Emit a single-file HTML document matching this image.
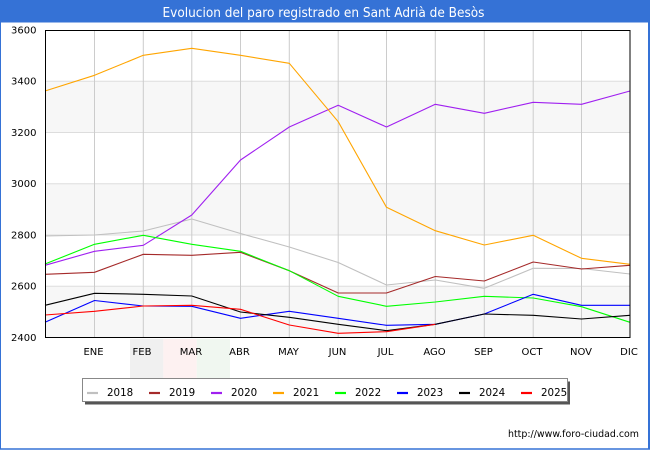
<!DOCTYPE html>
<html><head><meta charset="utf-8"><style>
html,body{margin:0;padding:0;background:#fff;}
svg{display:block;font-family:"DejaVu Sans","Liberation Sans",sans-serif;}
</style></head><body>
<svg width="650" height="450" viewBox="0 0 650 450" xmlns="http://www.w3.org/2000/svg">
<rect x="0" y="0" width="650" height="450" fill="#fff"/>
<!-- title bar -->
<rect x="0" y="0" width="650" height="22.5" fill="#3572d6"/>
<text x="323.5" y="17" font-size="13" fill="#fff" text-anchor="middle" textLength="322" lengthAdjust="spacingAndGlyphs">Evolucion del paro registrado en Sant Adrià de Besòs</text>
<!-- outer border -->
<line x1="0.5" y1="22" x2="0.5" y2="449" stroke="#3572d6" stroke-width="1"/>
<line x1="649" y1="22" x2="649" y2="449" stroke="#3572d6" stroke-width="2"/>
<line x1="0" y1="449" x2="650" y2="449" stroke="#3572d6" stroke-width="1.5"/>
<!-- flag watermark -->
<rect x="130" y="339" width="33.3" height="39" fill="#f0f0f0"/>
<rect x="163.3" y="339" width="33.4" height="39" fill="#fdf1f1"/>
<rect x="196.7" y="339" width="33.3" height="39" fill="#f0f7f0"/>
<!-- plot bands -->
<rect x="45" y="286.2" width="585" height="51.3" fill="#f7f7f7"/>
<rect x="45" y="183.7" width="585" height="51.3" fill="#f7f7f7"/>
<rect x="45" y="81.2" width="585" height="51.3" fill="#f7f7f7"/>
<!-- horizontal grid -->
<g stroke="#dddddd" stroke-width="1">
<line x1="45" y1="81.2" x2="630" y2="81.2"/>
<line x1="45" y1="132.5" x2="630" y2="132.5"/>
<line x1="45" y1="183.7" x2="630" y2="183.7"/>
<line x1="45" y1="235" x2="630" y2="235"/>
<line x1="45" y1="286.2" x2="630" y2="286.2"/>
</g>
<!-- vertical grid -->
<g stroke="#cccccc" stroke-width="1">
<line x1="94.5" y1="30" x2="94.5" y2="337.5"/>
<line x1="143.3" y1="30" x2="143.3" y2="337.5"/>
<line x1="191.8" y1="30" x2="191.8" y2="337.5"/>
<line x1="240.5" y1="30" x2="240.5" y2="337.5"/>
<line x1="289.3" y1="30" x2="289.3" y2="337.5"/>
<line x1="338.2" y1="30" x2="338.2" y2="337.5"/>
<line x1="386.5" y1="30" x2="386.5" y2="337.5"/>
<line x1="435.3" y1="30" x2="435.3" y2="337.5"/>
<line x1="484.3" y1="30" x2="484.3" y2="337.5"/>
<line x1="533.2" y1="30" x2="533.2" y2="337.5"/>
<line x1="581.5" y1="30" x2="581.5" y2="337.5"/>
</g>
<!-- series -->
<g fill="none" stroke-width="1.1" stroke-linejoin="round">
<polyline stroke="#c0c0c0" points="45,236 94.5,235 143.3,231 191.8,219 240.5,233.5 289.3,247 338.2,262.5 386.5,285 435.3,280 484.3,288.3 533.2,268.3 581.5,268.5 630,274"/>
<polyline stroke="#a52a2a" points="45,274.3 94.5,272.3 143.3,254.3 191.8,255.3 240.5,252.3 289.3,270.7 338.2,293 386.5,293 435.3,276.5 484.3,281 533.2,262 581.5,269 630,265.3"/>
<polyline stroke="#a020f0" points="45,265.3 94.5,251.3 143.3,245.3 191.8,215 240.5,160 289.3,127 338.2,105.3 386.5,127 435.3,104.3 484.3,113.3 533.2,102.3 581.5,104.3 630,91"/>
<polyline stroke="#ffa500" points="45,91 94.5,75.3 143.3,55.3 191.8,48.3 240.5,55.3 289.3,63.3 338.2,121.7 386.5,207.3 435.3,230.7 484.3,245 533.2,235.3 581.5,258.3 630,264.3"/>
<polyline stroke="#00ff00" points="45,264 94.5,244.3 143.3,235.3 191.8,244.3 240.5,251.3 289.3,270.7 338.2,296.3 386.5,306.3 435.3,302 484.3,296.3 533.2,298 581.5,306.7 630,322.3"/>
<polyline stroke="#0000ff" points="45,322.3 94.5,300.5 143.3,306 191.8,306.3 240.5,318.3 289.3,311.3 338.2,318.3 386.5,325.3 435.3,324.3 484.3,314 533.2,294.3 581.5,305.3 630,305.3"/>
<polyline stroke="#000000" points="45,305.3 94.5,293.3 143.3,294.3 191.8,296 240.5,312 289.3,317.3 338.2,324.3 386.5,330.7 435.3,324.3 484.3,314 533.2,315.3 581.5,319 630,315.3"/>
<polyline stroke="#ff0000" points="45,315 94.5,311.3 143.3,306 191.8,305.3 240.5,309.3 289.3,325 338.2,333.3 386.5,331.7 435.3,324.3"/>
</g>
<!-- plot frame -->
<rect x="45.5" y="30.5" width="584.5" height="307" fill="none" stroke="#000" stroke-width="1"/>
<!-- y labels -->
<g font-size="10" fill="#000" text-anchor="end">
<text x="36.5" y="33.5">3600</text>
<text x="36.5" y="84.7">3400</text>
<text x="36.5" y="136">3200</text>
<text x="36.5" y="187.2">3000</text>
<text x="36.5" y="238.5">2800</text>
<text x="36.5" y="289.7">2600</text>
<text x="36.5" y="341">2400</text>
</g>
<!-- x labels -->
<g font-size="10" fill="#000" text-anchor="middle">
<text x="93.5" y="355">ENE</text>
<text x="142" y="355">FEB</text>
<text x="191" y="355">MAR</text>
<text x="239.5" y="355">ABR</text>
<text x="288.5" y="355">MAY</text>
<text x="337.5" y="355">JUN</text>
<text x="385.5" y="355">JUL</text>
<text x="434.5" y="355">AGO</text>
<text x="483.5" y="355">SEP</text>
<text x="532" y="355">OCT</text>
<text x="581" y="355">NOV</text>
<text x="629" y="355">DIC</text>
</g>
<!-- legend -->
<rect x="85" y="381.5" width="485" height="23" fill="#555"/>
<rect x="82.5" y="378.5" width="485" height="23" fill="#fff" stroke="#888" stroke-width="1"/>
<g stroke-width="2.2">
<line x1="87" y1="393" x2="98" y2="393" stroke="#c0c0c0"/>
<line x1="149" y1="393" x2="160" y2="393" stroke="#a52a2a"/>
<line x1="211" y1="393" x2="222" y2="393" stroke="#a020f0"/>
<line x1="273" y1="393" x2="284" y2="393" stroke="#ffa500"/>
<line x1="335" y1="393" x2="346" y2="393" stroke="#00ff00"/>
<line x1="397" y1="393" x2="408" y2="393" stroke="#0000ff"/>
<line x1="459" y1="393" x2="470" y2="393" stroke="#000000"/>
<line x1="521" y1="393" x2="532" y2="393" stroke="#ff0000"/>
</g>
<g font-size="10.3" fill="#000">
<text x="107" y="396">2018</text>
<text x="169" y="396">2019</text>
<text x="231" y="396">2020</text>
<text x="293" y="396">2021</text>
<text x="355" y="396">2022</text>
<text x="417" y="396">2023</text>
<text x="479" y="396">2024</text>
<text x="541" y="396">2025</text>
</g>
<!-- url -->
<text x="639" y="437" font-size="9.5" fill="#000" text-anchor="end" textLength="131" lengthAdjust="spacingAndGlyphs">http://www.foro-ciudad.com</text>
</svg>
</body></html>
